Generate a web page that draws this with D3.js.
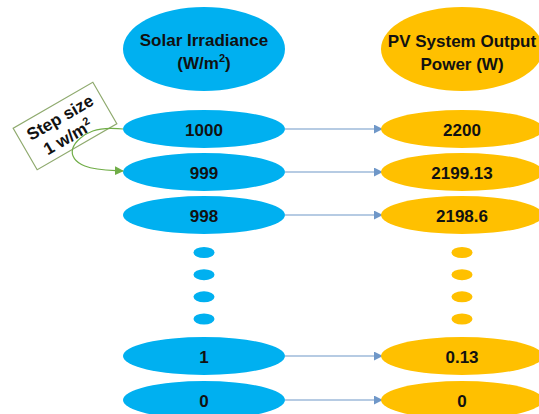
<!DOCTYPE html>
<html>
<head>
<meta charset="utf-8">
<script src="https://cdn.jsdelivr.net/npm/d3@7"></script>
<style>
  body { margin: 0; background: #fff; }
  text { font-family: "Liberation Sans", Arial, sans-serif; font-weight: bold; fill: #111; }
</style>
</head>
<body>
<div id="chart"></div>
<script>
// data
const irradiance = ["1000", "999", "998", "1", "0"];
const power = ["2200", "2199.13", "2198.6", "0.13", "0"];
const rowSlots = [0, 1, 2, 7, 8];     // order of each row in the column
const dotSlots = [3, 4, 5, 6];        // the "..." between 998 and 1
const headers = [["Solar Irradiance", "(W/m", "2", ")"], ["PV System Output", "Power (W)"]];
const stepLabel = ["Step size", "1 w/m", "2"];

const width = 539, height = 414;
const blue = "#00b0f0", yellow = "#ffc000";

const svg = d3.select("#chart").append("svg")
  .attr("width", width)
  .attr("height", height);

// column centres and row positions
const x = d3.scalePoint().domain(["irr", "pow"]).range([204, 462]);
const y = d3.scaleLinear()
  .domain([0, 2, 3, 6, 7, 8])
  .range([129, 215, 252.5, 319, 356, 400]);

const rx = 81, ry = 19;

// arrow markers
const defs = svg.append("defs");
function marker(id, color) {
  defs.append("marker")
    .attr("id", id)
    .attr("viewBox", "0 0 10 10")
    .attr("refX", 9).attr("refY", 5)
    .attr("markerWidth", 9).attr("markerHeight", 9)
    .attr("markerUnits", "userSpaceOnUse")
    .attr("orient", "auto")
    .append("path")
    .attr("d", "M0,0 L10,5 L0,10 z")
    .attr("fill", color);
}
marker("arrBlue", "#6f97c8");
marker("arrGreen", "#70ad47");

// header ellipses
const head = svg.append("g");
head.append("ellipse").attr("cx", x("irr")).attr("cy", 49).attr("rx", 81).attr("ry", 42).attr("fill", blue);
head.append("ellipse").attr("cx", x("pow")).attr("cy", 49).attr("rx", 81).attr("ry", 42).attr("fill", yellow);

const t1 = head.append("text").attr("text-anchor", "middle").style("font-size", "17px");
t1.append("tspan").attr("x", x("irr")).attr("y", 46).text(headers[0][0]);
t1.append("tspan").attr("x", x("irr")).attr("y", 69).text(headers[0][1]);
t1.append("tspan").attr("dy", -7).style("font-size", "11px").text(headers[0][2]);
t1.append("tspan").attr("dy", 7).text(headers[0][3]);

const t2 = head.append("text").attr("text-anchor", "middle").style("font-size", "17px");
t2.append("tspan").attr("x", x("pow")).attr("y", 47).text(headers[1][0]);
t2.append("tspan").attr("x", x("pow")).attr("y", 70).text(headers[1][1]);

// rows
const rows = irradiance.map((d, i) => ({irr: d, pow: power[i], slot: rowSlots[i]}));

const row = svg.selectAll(".row")
  .data(rows)
  .enter().append("g")
  .attr("class", "row");

row.append("line")
  .attr("x1", x("irr") + rx)
  .attr("x2", x("pow") - rx + 1)
  .attr("y1", d => y(d.slot))
  .attr("y2", d => y(d.slot))
  .attr("stroke", "#6f97c8")
  .attr("stroke-width", 1.2)
  .attr("marker-end", "url(#arrBlue)");

row.append("ellipse")
  .attr("cx", x("irr")).attr("cy", d => y(d.slot))
  .attr("rx", rx).attr("ry", ry)
  .attr("fill", blue);
row.append("ellipse")
  .attr("cx", x("pow")).attr("cy", d => y(d.slot))
  .attr("rx", rx).attr("ry", ry)
  .attr("fill", yellow);

row.append("text")
  .attr("x", x("irr")).attr("y", d => y(d.slot) + 6.5)
  .attr("text-anchor", "middle")
  .style("font-size", "17px")
  .text(d => d.irr);
row.append("text")
  .attr("x", x("pow")).attr("y", d => y(d.slot) + 6.5)
  .attr("text-anchor", "middle")
  .style("font-size", "17px")
  .text(d => d.pow);

// the dots between rows
["irr", "pow"].forEach(c => {
  svg.selectAll(".dot-" + c)
    .data(dotSlots)
    .enter().append("ellipse")
    .attr("class", "dot-" + c)
    .attr("cx", x(c)).attr("cy", d => y(d))
    .attr("rx", 10.5).attr("ry", 5.5)
    .attr("fill", c == "irr" ? blue : yellow);
});

// step size note
const note = svg.append("g").attr("transform", "translate(65,126) rotate(-30)");
note.append("rect")
  .attr("x", -46).attr("y", -24)
  .attr("width", 92).attr("height", 48)
  .attr("fill", "#fff")
  .attr("stroke", "#8faa6e")
  .attr("stroke-width", 1.2);
const nt = note.append("text").attr("text-anchor", "middle").style("font-size", "17px");
nt.append("tspan").attr("x", 0).attr("y", -4).text(stepLabel[0]);
nt.append("tspan").attr("x", -3).attr("y", 17).text(stepLabel[1]);
nt.append("tspan").attr("dy", -7).style("font-size", "11px").text(stepLabel[2]);

// green curved arrow from 1000 to 999
svg.append("path")
  .attr("d", d3.line().curve(d3.curveBasis)([
    [x("irr") - rx, y(0)], [92, y(0) - 2], [66, y(0) + 20], [80, y(1) - 3], [x("irr") - rx, y(1) - 1]
  ]))
  .attr("fill", "none")
  .attr("stroke", "#70ad47")
  .attr("stroke-width", 1.2)
  .attr("marker-end", "url(#arrGreen)");
</script>
</body>
</html>
